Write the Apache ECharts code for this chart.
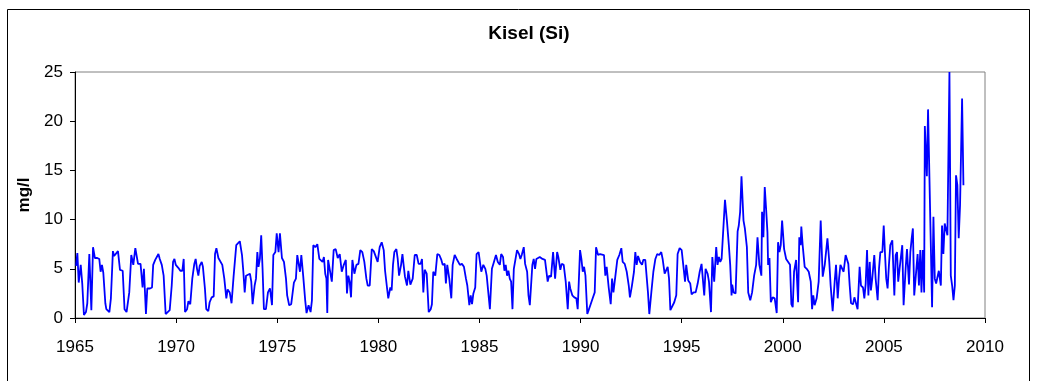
<!DOCTYPE html>
<html>
<head>
<meta charset="utf-8">
<title>Kisel (Si)</title>
<script src="https://cdn.jsdelivr.net/npm/echarts@6/dist/echarts.min.js"></script>
<style>
  html, body { margin: 0; padding: 0; background: #ffffff; }
  #chart { width: 1037px; height: 381px; }
</style>
</head>
<body>
<div id="chart"></div>
<script>
// Silicon concentration (mg/l). Each sample is [months since Jan 1965, value].
const si1965to1969 = [
  [0.6,5.3],[1.4,6.6],[2.2,3.6],[3.4,5.4],[4.3,3.5],[5.3,0.3],[6.5,0.6],[7.3,1.5],[8.5,6.5],[9.7,0.8],
  [10.7,7.2],[11.8,6.1],[13.2,6.1],[14.4,6.0],[15.2,4.7],[16.0,5.4],[16.8,4.6],[18.0,1.5],[18.6,0.9],[19.6,0.9],
  [20.4,0.6],[21.3,2.0],[22.5,6.8],[23.2,6.3],[24.3,6.3],[25.5,6.8],[26.7,4.9],[28.3,4.8],[29.4,0.9],[30.6,0.6],
  [32.2,2.6],[33.4,6.4],[34.6,5.4],[35.8,7.1],[37.4,5.5],[38.9,5.5],[40.1,3.1],[40.9,5.0],[42.1,0.4],[42.9,3.0],
  [44.5,3.0],[45.7,3.1],[46.4,5.4],[47.6,5.9],[48.7,6.0],[49.5,6.5],[50.3,6.0],[51.5,5.4],[52.6,4.3],[53.8,0.4],
  [55.0,0.6],[56.2,0.8],[57.4,3.3],[58.2,5.7],[59.0,6.0]
];
const si1970to1973 = [
  [59.8,5.4],[60.6,5.3],[61.3,5.1],[62.5,4.8],[63.7,4.8],[64.5,6.0],[65.3,0.6],[66.5,0.9],[67.3,1.7],[68.4,1.4],
  [69.6,4.0],[70.8,5.5],[71.6,6.0],[72.4,5.0],[73.2,4.3],[74.0,5.3],[75.2,5.7],[75.9,5.2],[77.1,3.0],[77.9,0.9],
  [79.1,0.7],[79.9,1.6],[81.1,2.1],[82.3,2.2],[83.1,6.5],[83.9,7.1],[85.1,6.1],[86.2,6.2],[87.4,5.4],[88.6,4.0],
  [89.8,2.0],[90.6,2.9],[91.8,2.6],[92.9,1.5],[94.1,4.2],[95.7,7.4],[96.5,7.2],[97.8,7.8],[99.1,6.4],[99.9,4.7],
  [100.7,2.6],[101.5,4.3],[102.6,4.2],[103.8,4.5],[104.6,3.7],[105.4,1.4],[106.6,3.3],[107.4,4.0]
];
const si1974to1977 = [
  [108.2,6.7],[108.9,5.2],[109.7,6.0],[110.5,8.4],[111.3,5.0],[112.1,0.9],[113.3,0.9],[114.5,2.6],[115.7,3.0],[116.9,1.3],
  [117.7,6.4],[118.9,6.7],[119.7,8.6],[120.8,6.7],[121.6,8.6],[122.8,6.1],[124.0,5.7],[125.2,4.0],[125.9,2.3],[127.1,1.3],
  [128.3,1.4],[129.1,1.4],[129.9,3.6],[131.1,4.0],[131.9,6.4],[132.7,6.4],[133.5,4.7],[134.3,6.4],[135.4,4.3],[136.6,1.8],
  [137.4,0.5],[138.6,1.3],[139.8,0.6],[140.6,1.8],[141.4,7.4],[142.6,7.2],[143.8,7.5],[145.0,6.0],[146.1,6.2],[146.9,5.7],
  [147.7,6.2],[148.5,4.5],[149.2,4.0],[149.7,0.5],[150.2,5.9],[151.2,5.7],[152.4,3.7],[153.5,6.9],[154.7,7.0],[155.9,6.1]
];
const si1978to1981 = [
  [157.1,6.5],[158.3,4.7],[159.5,5.4],[160.7,5.9],[161.4,2.5],[162.2,4.3],[163.0,3.7],[163.8,2.1],[164.6,5.9],[165.8,4.5],
  [167.0,5.4],[168.2,5.5],[169.3,6.9],[170.5,6.7],[171.7,5.7],[172.9,4.0],[173.7,3.3],[174.9,3.3],[176.1,7.0],[177.3,6.8],
  [178.4,6.7],[179.6,5.7],[180.8,7.2],[182.0,7.7],[183.2,6.9],[184.0,4.8],[185.2,3.0],[185.9,2.0],[187.1,3.1],[187.9,2.8],
  [188.7,5.4],[189.5,6.7],[190.7,7.0],[191.5,6.0],[192.3,4.3],[193.5,5.4],[194.3,6.5],[195.0,5.4],[195.8,4.2],[197.0,3.3],
  [197.8,4.8],[199.0,3.4],[200.4,4.0],[201.6,6.4],[202.8,6.4],[203.9,5.5]
];
const si1982to1985 = [
  [205.1,5.5],[205.9,6.0],[206.7,2.6],[207.5,4.9],[208.7,4.5],[209.9,0.6],[211.1,0.9],[211.8,1.4],[212.6,4.7],[213.8,4.3],
  [215.0,6.5],[216.2,6.4],[217.4,5.9],[218.2,5.4],[219.4,5.5],[220.1,3.5],[220.9,5.4],[222.1,4.0],[223.3,2.0],[224.1,5.4],
  [225.3,6.4],[226.5,6.0],[227.3,5.9],[228.4,5.4],[229.6,5.5],[230.8,5.2],[232.0,4.0],[232.8,3.3],[234.0,1.3],[234.8,2.3],
  [235.6,1.4],[236.4,2.5],[237.5,3.1],[238.3,6.5],[239.5,6.7],[240.3,6.9],[241.1,4.7],[242.3,5.4],[243.5,5.0],[244.3,4.3],
  [245.4,4.1],[246.2,0.9],[247.4,5.0],[248.6,5.7],[249.8,6.4],[250.9,5.7],[252.1,5.4]
];
const si1986to1989 = [
  [252.9,6.5],[254.0,6.2],[254.8,4.8],[255.6,5.4],[256.4,4.3],[257.2,4.8],[258.0,4.0],[258.8,3.7],[259.6,0.9],[260.4,5.0],
  [261.2,5.1],[262.3,6.9],[263.5,6.5],[264.3,6.0],[265.1,6.4],[266.3,7.2],[267.1,5.5],[268.3,4.7],[269.1,2.3],[269.9,1.3],
  [270.6,1.4],[271.4,5.4],[272.2,6.0],[273.0,5.0],[273.8,6.0],[274.6,5.9],[275.8,6.2],[276.6,6.0],[277.4,6.0],[278.9,5.9],
  [279.7,5.8],[280.5,3.7],[281.3,4.3],[282.5,4.2],[283.7,6.7],[284.9,4.0],[286.1,6.7],[286.8,6.2],[288.0,4.9],[288.8,5.5],
  [290.0,5.4],[291.2,3.7],[292.4,0.9],[293.2,3.7],[293.9,3.0],[295.1,2.3],[296.3,2.1],[297.5,2.0],[298.3,0.9],[299.7,6.9]
];
const si1990to1994 = [
  [300.5,6.0],[301.3,4.7],[302.1,5.2],[302.9,4.3],[303.7,4.2],[304.0,0.4],[304.8,0.8],[306.0,1.4],[307.2,2.0],[308.4,2.6],
  [309.2,7.2],[310.4,6.4],[311.6,6.5],[312.7,6.6],[313.9,6.4],[314.7,4.3],[315.5,5.2],[316.7,3.1],[317.9,1.4],[318.7,4.0],
  [319.5,2.6],[320.6,2.8],[321.8,5.9],[323.0,6.4],[324.2,7.1],[325.0,5.7],[326.2,5.5],[327.4,4.7],[328.6,3.3],[329.3,2.1],
  [330.5,3.3],[331.7,4.7],[332.5,6.7],[333.3,5.4],[334.1,6.3],[335.3,5.7],[336.5,5.4],[337.2,5.9],[338.4,5.9],[339.2,6.0],
  [340.0,2.6],[340.8,0.4],[342.0,2.6],[343.2,4.7],[344.4,6.0],[345.5,6.5],[346.7,6.4],[347.9,6.7],[348.7,6.0],[349.9,4.5],
  [350.9,4.7],[351.7,5.2],[352.5,4.0],[353.3,0.8],[354.4,0.7],[355.6,1.6],[356.8,2.3],[357.6,6.5],[358.8,7.1]
];
const si1995to1999 = [
  [360.0,6.9],[361.2,5.0],[362.0,3.7],[362.7,5.4],[363.9,3.8],[365.1,3.5],[365.9,2.4],[367.1,2.6],[368.3,2.6],[369.5,3.5],
  [370.7,4.7],[371.8,5.5],[372.6,5.4],[373.4,2.3],[374.2,5.0],[375.4,4.5],[376.2,3.7],[377.4,0.6],[378.2,6.2],[379.3,3.7],
  [380.5,7.2],[381.3,5.4],[382.1,6.2],[382.9,5.7],[383.7,6.0],[384.5,6.2],[385.7,12.0],[386.9,9.8],[388.0,7.4],[388.8,5.4],
  [389.6,2.3],[390.0,3.4],[390.8,2.6],[392.0,2.5],[393.2,8.8],[393.9,9.4],[394.7,10.8],[395.5,14.4],[396.7,9.9],[397.5,9.1],
  [398.7,7.2],[399.5,2.6],[400.7,1.8],[401.8,2.6],[403.0,4.3],[404.2,5.4],[405.0,8.2],[406.1,5.4],[407.3,4.3],[407.7,10.8],
  [408.5,8.2],[409.3,13.3],[410.1,11.1],[410.9,8.7],[411.3,5.4],[412.1,6.1],[412.9,1.6],[414.0,2.1],[415.2,2.0],[416.4,0.5]
];
const si2000to2004 = [
  [417.2,7.7],[418.0,6.7],[418.8,7.4],[419.6,9.9],[420.8,7.0],[422.0,6.0],[423.1,5.9],[424.3,5.4],[425.1,1.4],[425.9,1.1],
  [426.7,4.7],[427.9,5.9],[429.1,1.6],[429.8,8.2],[430.6,7.4],[431.0,9.3],[431.8,7.4],[433.0,5.2],[434.2,5.0],[435.4,4.7],
  [436.6,3.7],[437.4,0.9],[438.1,2.3],[438.9,1.3],[440.1,2.0],[441.3,3.7],[442.5,9.9],[443.7,4.2],[444.9,5.4],[446.5,8.1],
  [447.6,5.7],[448.4,3.3],[449.6,0.7],[450.8,3.7],[451.6,5.4],[452.6,2.0],[453.4,4.0],[454.2,5.4],[455.3,5.2],[456.1,4.7],
  [457.3,6.4],[458.1,6.2],[458.9,5.5],[459.7,3.3],[460.5,1.5],[461.7,1.4],[462.5,2.1],[463.6,2.3],[464.4,0.9],[465.6,5.2],
  [466.4,3.3],[467.6,3.1],[468.4,2.0],[469.2,3.5],[470.0,6.9],[470.8,2.3],[471.6,5.7],[472.3,2.8],[473.1,4.0],[474.3,6.4],
  [475.1,4.0],[476.3,1.8],[477.1,5.0],[477.9,6.7]
];
const si2005to2008 = [
  [479.1,6.7],[479.9,9.4],[480.6,6.7],[481.4,4.0],[482.2,3.0],[483.0,5.4],[483.8,7.4],[485.0,7.9],[486.2,2.3],[487.0,6.4],
  [487.8,6.7],[488.5,3.7],[489.3,5.0],[490.1,5.2],[490.9,7.4],[491.7,1.3],[492.9,5.0],[493.7,7.0],[494.9,3.4],[495.7,6.7],
  [496.5,8.1],[497.2,9.1],[498.0,2.3],[498.8,2.3],[500.0,6.5],[500.8,3.3],[501.6,6.9],[502.3,2.6],[503.1,6.9],[503.9,2.6],
  [504.3,19.5],[505.5,14.4],[506.2,21.2],[508.6,1.1],[509.4,10.3],[510.2,4.0],[511.0,3.5],[511.8,3.7],[512.6,4.8],[513.8,3.3],
  [514.5,9.4],[515.3,6.5],[516.1,9.6],[516.9,9.8],[517.7,8.4],[518.9,25.0],[519.7,4.3],[520.5,3.3],[521.3,1.8],[522.1,3.3],
  [522.8,14.5],[523.6,13.5],[524.4,8.1],[525.2,11.5],[526.4,22.3],[527.2,13.5]
];

const yearTicks = [1965, 1970, 1975, 1980, 1985, 1990, 1995, 2000, 2005, 2010];
const valueTicks = [0, 5, 10, 15, 20, 25];

const START_YEAR = 1965;
const samples = [].concat(
  si1965to1969, si1970to1973, si1974to1977, si1978to1981, si1982to1985,
  si1986to1989, si1990to1994, si1995to1999, si2000to2004, si2005to2008
).map(([m, v]) => [START_YEAR + m / 12, v]);

const chart = echarts.init(document.getElementById('chart'), null, { renderer: 'canvas' });
const FONT = 'Liberation Sans, Arial, sans-serif';

chart.setOption({
  animation: false,
  backgroundColor: '#ffffff',
  title: {
    text: 'Kisel (Si)',
    left: 529,
    textAlign: 'center',
    top: 24,
    padding: 0,
    textStyle: { fontFamily: FONT, fontWeight: 'bold', fontSize: 19, color: '#000' }
  },
  graphic: [{
    type: 'rect',
    shape: { x: 7.5, y: 9.5, width: 1022, height: 390 },
    style: { fill: 'none', stroke: '#000', lineWidth: 1 },
    silent: true
  }],
  grid: {
    left: 75, top: 72, right: 52, bottom: 63,
    show: true, borderColor: '#808080', borderWidth: 1, backgroundColor: 'transparent'
  },
  xAxis: {
    type: 'value',
    min: yearTicks[0],
    max: yearTicks[yearTicks.length - 1],
    interval: 5,
    axisLine: { lineStyle: { color: '#000', width: 1 } },
    axisTick: { show: true, inside: false, length: 5, lineStyle: { color: '#000' } },
    splitLine: { show: false },
    axisLabel: {
      fontFamily: FONT, fontSize: 17, color: '#000', margin: 21,
      formatter: v => yearTicks.includes(v) ? String(v) : ''
    }
  },
  yAxis: {
    type: 'value',
    min: valueTicks[0],
    max: valueTicks[valueTicks.length - 1],
    interval: 5,
    name: 'mg/l',
    nameLocation: 'middle',
    nameGap: 40,
    nameRotate: 90,
    nameTextStyle: { fontFamily: FONT, fontWeight: 'bold', fontSize: 17, color: '#000' },
    axisLine: { show: true, lineStyle: { color: '#000', width: 1 } },
    axisTick: { show: true, inside: false, length: 5, lineStyle: { color: '#000' } },
    splitLine: { show: false },
    axisLabel: {
      fontFamily: FONT, fontSize: 17, color: '#000', margin: 12,
      formatter: v => String(v)
    }
  },
  series: [{
    type: 'line',
    data: samples,
    showSymbol: false,
    symbol: 'none',
    lineStyle: { color: '#0000ff', width: 1.8 },
    clip: true
  }]
});
</script>
</body>
</html>
